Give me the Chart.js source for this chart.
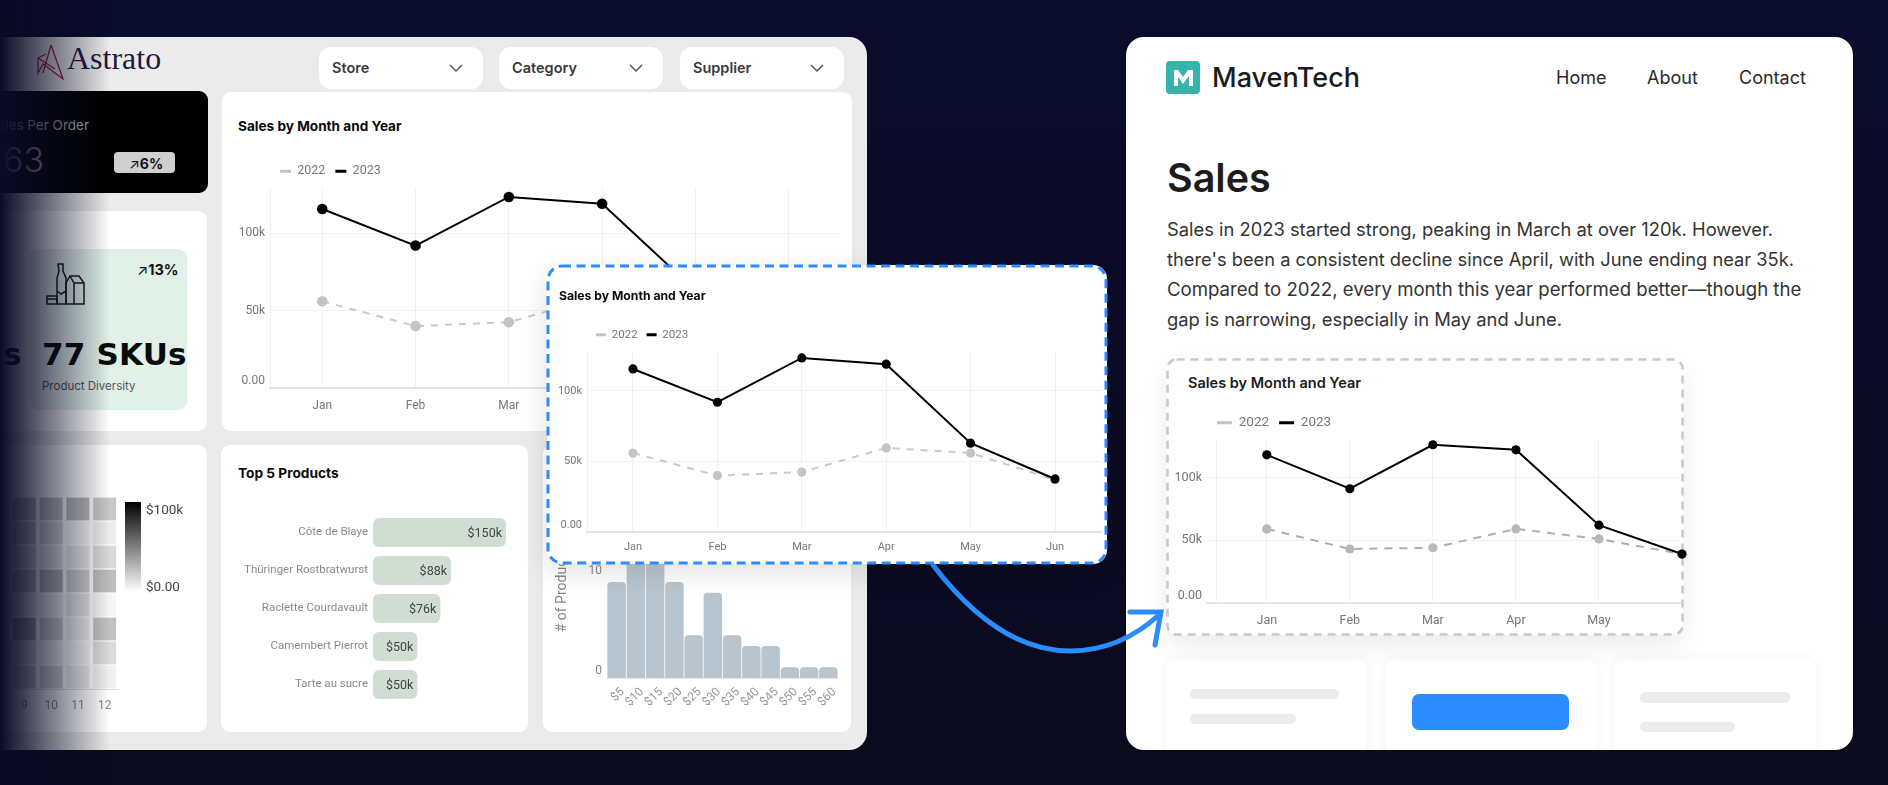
<!DOCTYPE html>
<html>
<head>
<meta charset="utf-8">
<title>Sales by Month and Year</title>
<script src="https://cdn.jsdelivr.net/npm/chart.js@4"></script>
<style>
    html, body { margin: 0; padding: 0; }
    body { width: 1888px; height: 785px; overflow: hidden; position: relative; background: linear-gradient(#0b0b2c, #0a0b1d); font-family: Inter, sans-serif; }
    .box { position: absolute; box-sizing: border-box; }
    .card { position: absolute; box-sizing: border-box; background: #fff; border-radius: 9px; }
    .t { position: absolute; white-space: nowrap; line-height: 1; transform: translateY(-50%); }
    canvas { position: absolute; }
    .drop { position: absolute; top: 47px; width: 164px; height: 42px; background: #fff; border-radius: 12px; }
    .drop span { position: absolute; left: 13px; top: 20px; transform: translateY(-50%); font: 600 14.5px Inter; color: #3a3a3a; }
    .drop svg { position: absolute; right: 20px; top: 16px; }
    .ghost { position: absolute; background: #ececec; border-radius: 5px; }
    .slot { position: absolute; top: 659px; height: 120px; background: #fff; border-radius: 9px; box-shadow: 0 0 14px rgba(0,0,0,.05); }
</style>
</head>
<body>

<!-- left dashboard -->
<div class="box" style="left:-20px;top:37px;width:887px;height:713px;background:#ebebeb;border-radius:18px"></div>

<svg class="box" style="left:36px;top:43px" width="30" height="38" viewBox="36 43 30 38" fill="none" stroke="#a3243f" stroke-width="1.3">
    <path d="M51 45 L63 79 L43 64 L38 73 L38 58 L55 69 M51 45 L43 73 M38 58 L46 54"/>
</svg>
<div class="t" style="left:67px;top:58px;font:400 32px 'Liberation Serif';color:#1f1b44">Astrato</div>

<div class="drop" style="left:319px"><span>Store</span><svg width="14" height="10"><path d="M1 2 L7 8 L13 2" fill="none" stroke="#555" stroke-width="1.5"/></svg></div>
<div class="drop" style="left:499px"><span>Category</span><svg width="14" height="10"><path d="M1 2 L7 8 L13 2" fill="none" stroke="#555" stroke-width="1.5"/></svg></div>
<div class="drop" style="left:680px"><span>Supplier</span><svg width="14" height="10"><path d="M1 2 L7 8 L13 2" fill="none" stroke="#555" stroke-width="1.5"/></svg></div>

<!-- kpi cards -->
<div class="card" style="left:-20px;top:91px;width:228px;height:102px;background:#000"></div>
<div class="t" style="left:-11px;top:125px;font:400 13.5px Inter;color:#aaa">Sales Per Order</div>
<div class="t" style="left:3px;top:159px;font:300 34px Inter;color:#9a9a9a">63</div>
<div class="box" style="left:114px;top:152px;width:61px;height:21px;background:#cfcfcf;border-radius:4px"></div>
<div class="t" style="left:129px;top:163px;font:700 14px Inter;color:#111"><span style="font-weight:400">↗</span>6%</div>

<div class="card" style="left:-20px;top:211px;width:227px;height:220px"></div>
<div class="box" style="left:29px;top:249px;width:158px;height:161px;background:#e1f1e8;border-radius:9px"></div>
<svg class="box" style="left:46px;top:263px" width="40" height="42" viewBox="0 0 40 42" fill="none" stroke="#1a1a1a" stroke-width="1.5">
    <path d="M1 33 H11 V41 H1 Z M1 36 H11"/>
    <path d="M12 1 H17 V8 L20 15 V41 H11 V15 L13 8 Z M11 28 L15 31 L20 28"/>
    <path d="M20 20 L24 13 H33 L38 20 V41 H20 Z M24 13 L28 20 H38 M28 20 V41"/>
</svg>
<div class="t" style="left:137px;top:269px;font:700 14.5px Inter;color:#111"><span style="font-weight:400">↗</span>13%</div>
<div class="t" style="left:42px;top:354px;font:800 31px 'DejaVu Sans';color:#0b0b0b;letter-spacing:.2px">77 SKUs</div>
<div class="t" style="left:3px;top:354px;font:800 31px 'DejaVu Sans';color:#0b0b0b">s</div>
<div class="t" style="left:42px;top:386px;font:400 11.5px Inter;color:#555">Product Diversity</div>

<!-- sales chart behind the callout -->
<div class="card" style="left:222px;top:92px;width:630px;height:339px"></div>
<div class="t" style="left:238px;top:126px;font:700 13.6px Inter;color:#0b0b0b">Sales by Month and Year</div>
<canvas id="dashLine" width="630" height="276" style="left:222px;top:155px"></canvas>

<!-- heatmap -->
<div class="card" style="left:-20px;top:445px;width:227px;height:287px"></div>
<canvas id="heatmap" width="130" height="287" style="left:0;top:445px"></canvas>
<div class="box" style="left:125px;top:502px;width:16px;height:90px;background:linear-gradient(#000,#fff)"></div>
<div class="t" style="left:146px;top:509px;font:400 13.5px Roboto;color:#444">$100k</div>
<div class="t" style="left:146px;top:586px;font:400 13.5px Roboto;color:#444">$0.00</div>

<!-- top products -->
<div class="card" style="left:221px;top:445px;width:307px;height:287px"></div>
<div class="t" style="left:238px;top:473px;font:700 13.7px Inter;color:#0b0b0b">Top 5 Products</div>
<canvas id="topProducts" width="307" height="287" style="left:221px;top:445px"></canvas>

<!-- price histogram -->
<div class="card" style="left:543px;top:445px;width:308px;height:287px"></div>
<canvas id="priceHist" width="308" height="287" style="left:543px;top:445px"></canvas>

<!-- fade on the left edge -->
<div class="box" style="left:0;top:0;width:110px;height:785px;background:linear-gradient(90deg,#0a0a24,rgba(10,10,36,0))"></div>

<!-- right page -->
<div class="box" style="left:1126px;top:37px;width:727px;height:713px;background:#fff;border-radius:18px;overflow:hidden">
    <div class="slot" style="left:41px;top:622px;width:200px"></div>
    <div class="slot" style="left:260px;top:622px;width:211px"></div>
    <div class="slot" style="left:489px;top:622px;width:201px"></div>
    <div class="ghost" style="left:64px;top:652px;width:149px;height:10px"></div>
    <div class="ghost" style="left:64px;top:677px;width:106px;height:10px"></div>
    <div class="box" style="left:286px;top:657px;width:157px;height:36px;background:#2a8cff;border-radius:7px"></div>
    <div class="ghost" style="left:514px;top:655px;width:150px;height:11px"></div>
    <div class="ghost" style="left:514px;top:685px;width:95px;height:10px"></div>
</div>
<svg class="box" style="left:1166px;top:61px" width="34" height="33" viewBox="0 0 34 33">
    <rect width="34" height="33" rx="4" fill="#38b2ac"/>
    <path d="M8 25 V9 H12 L17 16 L22 9 H27 V25 H23 V15 L17 23 L12 16 V25 Z" fill="#fff"/>
</svg>
<div class="t" style="left:1212px;top:77px;font:500 27px Inter;color:#1b1b1b">MavenTech</div>
<div class="t" style="left:1556px;top:77px;font:400 18px Inter;color:#2a2a2a">Home</div>
<div class="t" style="left:1647px;top:77px;font:400 18px Inter;color:#2a2a2a">About</div>
<div class="t" style="left:1739px;top:77px;font:400 18px Inter;color:#2a2a2a">Contact</div>
<div class="t" style="left:1167px;top:178px;font:600 39.5px Inter;color:#1c1c1c">Sales</div>
<div class="t" style="left:1167px;top:229px;font:400 18.35px Inter;color:#333">Sales in 2023 started strong, peaking in March at over 120k. However.</div>
<div class="t" style="left:1167px;top:259px;font:400 18.3px Inter;color:#333">there's been a consistent decline since April, with June ending near 35k.</div>
<div class="t" style="left:1167px;top:289px;font:400 18.6px Inter;color:#333">Compared to 2022, every month this year performed better—though the</div>
<div class="t" style="left:1167px;top:319px;font:400 18.35px Inter;color:#333">gap is narrowing, especially in May and June.</div>

<!-- embedded chart on the right page -->
<div class="box" style="left:1167px;top:359px;width:516px;height:276px;background:#fff;border-radius:10px;box-shadow:0 10px 28px rgba(0,0,0,.08)"></div>
<svg class="box" style="left:1166px;top:358px" width="518" height="278">
    <rect x="1.5" y="1.5" width="515" height="275" rx="9" fill="none" stroke="#c9c9c9" stroke-width="2.5" stroke-dasharray="8 6"/>
</svg>
<div class="t" style="left:1188px;top:382px;font:600 14.5px Inter;color:#1b1b1b">Sales by Month and Year</div>
<canvas id="pageLine" width="523" height="229" style="left:1167px;top:406px"></canvas>

<!-- arrow between the two -->
<svg class="box" style="left:0;top:0" width="1888" height="785" fill="none" stroke="#2a8cff" stroke-width="5" stroke-linecap="round">
    <path d="M933 565 C975 620 1020 651 1070 651 C1105 651 1135 637 1160 614"/>
    <path d="M1130 612 H1161 L1155 645"/>
</svg>

<!-- callout card -->
<div class="box" style="left:547px;top:265px;width:560px;height:299px;background:#fff;border-radius:14px;box-shadow:0 8px 30px rgba(0,0,0,.12)"></div>
<svg class="box" style="left:546px;top:264px" width="562" height="301">
    <rect x="2" y="2" width="558" height="297" rx="14" fill="none" stroke="#2a8cff" stroke-width="3" stroke-dasharray="9 5.5"/>
</svg>
<div class="t" style="left:559px;top:295px;font:700 12.2px Inter;color:#0b0b0b">Sales by Month and Year</div>
<canvas id="calloutLine" width="560" height="244" style="left:547px;top:320px"></canvas>

<script>
const months = ['Jan', 'Feb', 'Mar', 'Apr', 'May', 'Jun'];
const yearLabels = ['2022', '2023'];
const sales2022 = [56000, 40000, 42500, 59600, 56000, 37000];
const sales2023 = [115600, 92000, 123400, 119000, 63000, 37600];
// the copy on the right page is stretched a bit, so it reads slightly differently
const pageSales2022 = [59000, 43000, 44000, 59000, 51000, 39000];
const pageSales2023 = [118000, 91000, 126000, 122000, 62000, 39000];
const salesTicks = [0, 50000, 100000];

const productNames = ['Côte de Blaye', 'Thüringer Rostbratwurst', 'Raclette Courdavault', 'Camembert Pierrot', 'Tarte au sucre'];
const productSales = [150000, 88000, 76000, 50000, 50000];

const priceBins = ['$5', '$10', '$15', '$20', '$25', '$30', '$35', '$40', '$45', '$50', '$55', '$60'];
const priceCounts = [9, 12, 12, 9, 4, 8, 4, 3, 3, 1, 1, 1];
const priceTicks = [0, 10];

const heatColumns = ['9', '10', '11', '12'];
const heatRow1 = [25000, 23000, 28000, 22000];
const heatRow2 = [22000, 15000, 4000, 7000];
const heatRow3 = [16000, 10000, 9000, 15000];
const heatRow4 = [25000, 27000, 19000, 26000];
const heatRow5 = [8000, 6000, 10000, 4000];
const heatRow6 = [34000, 18000, 7000, 24000];
const heatRow7 = [12000, 6000, 4000, 14000];
const heatRow8 = [18000, 16000, 8000, 6000];
const heatRows = [heatRow1, heatRow2, heatRow3, heatRow4, heatRow5, heatRow6, heatRow7, heatRow8];

Chart.defaults.animation = false;
Chart.defaults.responsive = false;
Chart.defaults.font.family = 'Roboto';
Chart.defaults.plugins.tooltip.enabled = false;

const toPoints = values => values.map((v, i) => ({ x: i, y: v }));

function drawSalesLine(id, o) {
    new Chart(document.getElementById(id), {
        type: 'line',
        data: {
            datasets: [
                {
                    label: yearLabels[0],
                    data: toPoints(o.y2022),
                    borderColor: o.oldLine,
                    backgroundColor: o.oldPoint,
                    borderWidth: 2,
                    borderDash: o.dash,
                    pointRadius: o.radius,
                    pointBorderWidth: 0,
                    clip: false,
                    order: 2
                },
                {
                    label: yearLabels[1],
                    data: toPoints(o.y2023),
                    borderColor: '#000',
                    backgroundColor: '#000',
                    borderWidth: 2,
                    pointRadius: o.radius,
                    pointBorderWidth: 0,
                    clip: false,
                    order: 1
                }
            ]
        },
        options: {
            layout: { padding: { right: o.padRight } },
            plugins: {
                legend: {
                    align: 'start',
                    fullSize: false,
                    labels: {
                        boxWidth: o.swatch,
                        boxHeight: 3,
                        padding: o.legendPad,
                        color: '#777',
                        font: { size: o.legendSize, family: o.legendFont },
                        generateLabels: chart => chart.data.datasets.map((ds, i) => ({
                            text: ds.label,
                            fillStyle: i === 0 ? '#c4c4c4' : '#000',
                            lineWidth: 0,
                            fontColor: '#777',
                            datasetIndex: i
                        }))
                    }
                }
            },
            scales: {
                x: {
                    type: 'linear',
                    min: o.xMin,
                    max: o.xMax,
                    afterBuildTicks: s => { s.ticks = [{ value: o.edge }].concat(o.xTicks.map(v => ({ value: v }))); },
                    afterFit: s => { s.height = o.xHeight; },
                    grid: { color: '#f1f1f1', drawTicks: false },
                    border: { color: '#e6e6e6', width: 2 },
                    ticks: {
                        maxRotation: 0,
                        autoSkip: false,
                        padding: o.xPad,
                        color: '#777',
                        font: { size: o.tickSize },
                        callback: v => (Number.isInteger(v) ? months[v] : '')
                    }
                },
                y: {
                    min: 0,
                    max: o.yMax,
                    afterBuildTicks: s => { s.ticks = salesTicks.map(v => ({ value: v })); },
                    afterFit: s => { s.width = o.yWidth; },
                    grid: { color: '#f1f1f1', drawTicks: false },
                    border: { display: false },
                    ticks: {
                        padding: 5,
                        color: '#777',
                        font: { size: o.tickSize },
                        // bottom label sits just above its line
                        callback: v => (v === 0 ? ['0.00', ''] : (v / 1000) + 'k')
                    }
                }
            }
        }
    });
}

drawSalesLine('dashLine', {
    y2022: sales2022, y2023: sales2023, oldLine: '#c9c9c9', oldPoint: '#c4c4c4', dash: [7, 7], radius: 5.3,
    swatch: 11, legendPad: 10, legendSize: 12.5, padRight: 12, yWidth: 48, xHeight: 43, xPad: 11, tickSize: 12,
    xMin: -0.56, xMax: 5.55, edge: -0.56, xTicks: [0, 1, 2, 3, 4, 5], yMax: 129500
});
drawSalesLine('calloutLine', {
    y2022: sales2022, y2023: sales2023, oldLine: '#c9c9c9', oldPoint: '#c4c4c4', dash: [7, 7], radius: 4.6,
    swatch: 10, legendPad: 9, legendSize: 11.5, padRight: 6, yWidth: 40, xHeight: 32, xPad: 9, tickSize: 11,
    xMin: -0.545, xMax: 5.545, edge: -0.545, xTicks: [0, 1, 2, 3, 4, 5], yMax: 128700
});
drawSalesLine('pageLine', {
    y2022: pageSales2022, y2023: pageSales2023, oldLine: '#aeaeae', oldPoint: '#b8b8b8', dash: [8, 7], radius: 4.6,
    swatch: 15, legendPad: 10, legendSize: 13.5, padRight: 10, yWidth: 40, xHeight: 32, xPad: 10, tickSize: 12.5,
    xMin: -0.72, xMax: 4.976, edge: -0.6, xTicks: [0, 1, 2, 3, 4], yMax: 130200
});

// value printed inside the end of each bar
const barValueLabels = {
    id: 'barValueLabels',
    afterDatasetsDraw(chart) {
        const ctx = chart.ctx;
        ctx.save();
        ctx.font = '12.5px Roboto';
        ctx.fillStyle = '#444';
        ctx.textAlign = 'right';
        ctx.textBaseline = 'middle';
        chart.getDatasetMeta(0).data.forEach((bar, i) => {
            ctx.fillText('$' + (productSales[i] / 1000) + 'k', bar.x - 4, bar.y + 1);
        });
        ctx.restore();
    }
};

new Chart(document.getElementById('topProducts'), {
    type: 'bar',
    plugins: [barValueLabels],
    data: {
        labels: productNames,
        datasets: [{
            data: productSales,
            backgroundColor: '#cfddd3',
            borderRadius: 6,
            borderSkipped: false,
            barPercentage: 0.76,
            categoryPercentage: 1
        }]
    },
    options: {
        indexAxis: 'y',
        layout: { padding: { top: 68.5, bottom: 28.5, right: 22 } },
        plugins: { legend: { display: false } },
        scales: {
            x: { display: false, min: 0, max: 150000 },
            y: {
                afterFit: s => { s.width = 152; },
                grid: { display: false, drawTicks: false },
                border: { display: false },
                ticks: { padding: 5, color: '#8a8a8a', font: { size: 11.5 } }
            }
        }
    }
});

new Chart(document.getElementById('priceHist'), {
    type: 'bar',
    data: {
        labels: priceBins,
        datasets: [{
            data: priceCounts,
            backgroundColor: '#b9c5ce',
            borderRadius: { topLeft: 4, topRight: 4 },
            borderSkipped: false,
            barPercentage: 0.96,
            categoryPercentage: 1
        }]
    },
    options: {
        layout: { padding: { top: 57, right: 13 } },
        plugins: { legend: { display: false } },
        scales: {
            x: {
                afterFit: s => { s.height = 54; },
                grid: { display: false, drawTicks: false },
                border: { color: '#e6e6e6' },
                ticks: { autoSkip: false, minRotation: 45, maxRotation: 45, padding: 7, labelOffset: 6, color: '#999', font: { size: 12 } }
            },
            y: {
                min: 0,
                max: 16.5,
                afterBuildTicks: s => { s.ticks = priceTicks.map(v => ({ value: v })); },
                afterFit: s => { s.width = 64; },
                grid: { display: false, drawTicks: false },
                border: { display: false },
                title: { display: true, text: '# of Products', color: '#888', font: { size: 14 }, padding: { top: 11, bottom: 0 } },
                ticks: { padding: 5, color: '#888', font: { size: 12 }, callback: v => (v === 0 ? ['0', ''] : String(v)) }
            }
        }
    }
});

// heatmap: each row is one dataset of floating bars, shaded from white ($0) to black ($100k)
const heatShade = v => {
    const g = Math.round(255 * (1 - v / 100000));
    return `rgb(${g},${g},${g})`;
};

new Chart(document.getElementById('heatmap'), {
    type: 'bar',
    data: {
        labels: heatColumns,
        datasets: heatRows.map((row, r) => ({
            data: row.map(() => [r + 0.025, r + 0.975]),
            backgroundColor: row.map(heatShade),
            grouped: false,
            barPercentage: 0.86,
            categoryPercentage: 1
        }))
    },
    options: {
        layout: { padding: { top: 52, left: 11, right: 12 } },
        plugins: { legend: { display: false } },
        scales: {
            x: {
                afterFit: s => { s.height = 43; },
                grid: { display: false, drawTicks: false },
                border: { color: '#dedede' },
                ticks: { padding: 10, color: '#888', font: { size: 12 }, maxRotation: 0 }
            },
            y: { display: false, reverse: true, min: 0, max: heatRows.length }
        }
    }
});
</script>
</body>
</html>
